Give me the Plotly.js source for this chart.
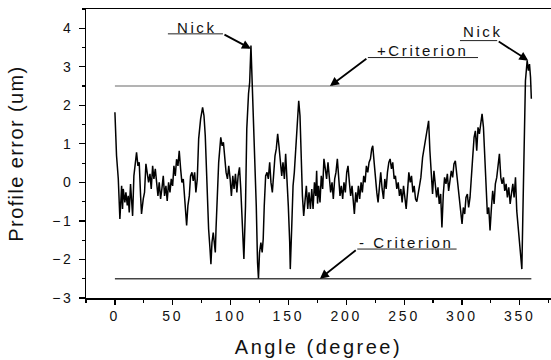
<!DOCTYPE html>
<html>
<head>
<meta charset="utf-8">
<script src="https://cdn.plot.ly/plotly-3.0.1.min.js"></script>
<style>
html,body{margin:0;padding:0;background:#fff;}
#chart{width:551px;height:360px;}
.xtick text,.ytick text{letter-spacing:2.8px;}
text.xtitle{letter-spacing:2.5px;}
text.ytitle{letter-spacing:1.4px;}
.annotation-text{letter-spacing:2.6px;}
</style>
</head>
<body>
<div id="chart"></div>
<script>
// Angle (degree)
const angle = [
0,1.4,2.9,3.7,4.3,5.8,6.6,7.2,8.6,9.5,10.7,11.5,12.4,13.5,14.7,15.3,16.4,17.6,18.7,19.9,
21.0,22.2,23.0,24.5,25.6,26.8,27.9,29.1,30.3,31.4,32.6,33.7,34.9,36.0,37.2,38.3,39.5,40.6,41.8,42.9,
44.1,45.2,46.4,47.6,48.7,49.9,51.0,52.2,53.3,54.5,55.6,56.8,57.9,59.1,60.2,61.4,62.0,63.1,64.3,65.4,
66.6,67.7,68.9,70.0,71.2,72.4,74.1,75.8,77.0,78.1,79.9,81.0,82.2,83.0,83.9,85.0,86.2,86.8,87.4,88.6,
89.7,91.5,92.7,93.8,95.0,96.1,97.3,98.4,99.6,100.7,101.9,103.0,104.2,105.4,106.5,107.7,108.8,110.0,111.5,112.9,
114.0,115.5,116.5,117.6,119.0,120.8,122.2,123.3,124.1,125.0,126.2,127.3,128.2,129.1,130.3,131.5,132.6,133.8,134.9,136.1,
137.2,138.4,139.5,140.7,141.8,143.0,144.2,145.3,146.5,147.6,148.8,149.9,151.1,151.6,152.8,154.0,155.1,156.3,157.7,158.9,
160.0,160.9,162.1,163.2,164.4,165.5,166.7,167.8,169.0,170.2,171.3,172.5,173.6,174.4,175.2,176.1,177.3,178.4,179.6,180.7,
181.9,183.0,184.2,185.3,186.5,187.7,188.8,190.0,191.1,192.3,193.4,194.6,195.7,196.9,198.0,199.2,200.4,201.5,202.7,203.8,
205.0,206.1,207.0,208.2,209.3,210.5,211.6,212.8,213.9,215.1,216.3,217.4,218.6,219.7,220.9,222.0,222.9,224.1,225.2,226.4,
227.5,228.7,229.8,231.0,232.2,233.3,234.5,235.6,236.8,237.9,239.1,240.2,241.4,242.5,243.7,244.9,246.0,247.2,248.3,249.5,
250.6,251.8,252.9,254.1,255.3,256.4,257.6,258.7,259.9,261.0,263.1,264.5,266.0,267.4,268.9,270.3,271.2,272.3,273.5,274.6,
275.8,277.0,278.1,279.3,280.4,281.6,282.7,283.9,285.0,286.2,287.4,288.5,289.7,290.8,292.0,293.1,294.3,295.4,296.6,297.7,
298.9,300.1,301.2,302.4,303.5,304.7,305.8,307.0,308.2,309.3,310.5,311.6,312.8,313.9,315.1,316.2,317.4,318.6,319.7,320.9,
322.0,323.2,324.3,325.5,326.6,327.8,328.9,330.1,331.3,332.4,333.6,334.7,335.9,337.0,338.2,339.3,340.5,341.7,342.8,344.0,
345.1,346.3,347.4,348.6,349.7,350.9,351.8,352.6,353.8,354.9,356.4,357.5,358.4,359.3,360.0
];
// Profile error (um)
const profileError = [
1.82,0.69,0.1,-0.35,-0.95,-0.09,-0.69,-0.17,-0.52,-0.26,-0.6,-0.35,-0.78,-0.04,-0.52,-0.87,0.17,0.52,0.78,0.43,
0.52,-0.35,-0.82,-0.43,-0.26,0.48,0.26,0.0,0.22,-0.17,0.43,0.09,0.35,-0.09,-0.35,0.0,-0.43,-0.17,0.17,-0.35,
-0.09,-0.48,0.0,-0.26,0.09,-0.09,0.43,0.17,0.6,0.43,0.82,0.35,0.0,0.09,-0.35,-0.87,-1.12,-0.6,-0.35,0.17,
0.26,0.04,0.26,-0.26,0.09,1.13,1.65,1.95,1.73,1.21,-0.35,-1.21,-1.73,-2.12,-1.56,-1.3,-1.65,-1.82,-1.21,-0.35,
0.52,1.17,0.95,1.04,0.6,0.26,0.09,0.43,0.09,-0.35,0.17,-0.17,0.22,-0.26,0.17,0.39,-0.17,-1.04,-1.99,-0.61,
1.39,2.3,2.6,3.55,2.25,0.95,-0.61,-2.08,-2.49,-1.82,-1.56,-1.82,-1.47,-0.61,0.17,0.26,0.09,0.52,0.0,-0.26,
0.26,0.69,0.87,1.26,0.95,0.52,0.17,0.52,0.09,0.74,0.09,-0.61,-1.56,-2.25,-1.21,-0.09,0.26,0.95,1.73,2.12,
1.73,0.52,-0.35,-0.87,-0.43,-0.09,-0.69,-0.26,-0.69,-0.17,-0.69,0.0,-0.35,0.3,-0.55,-0.09,-0.52,0.17,-0.17,0.61,
0.35,0.09,0.52,0.17,-0.26,0.0,-0.43,0.09,0.26,0.61,0.17,-0.35,-0.09,-0.43,0.0,-0.26,0.26,0.43,0.0,-0.35,
-0.09,-0.61,-0.82,-0.26,-0.52,-0.09,-0.43,0.0,-0.26,0.17,0.0,0.43,0.26,0.52,0.61,0.87,0.95,0.52,0.09,-0.26,
-0.52,0.0,0.26,-0.17,-0.43,0.09,-0.17,0.26,0.52,0.61,0.35,0.52,0.09,0.17,-0.17,0.0,-0.35,-0.17,-0.52,-0.09,
-0.35,-0.69,-0.26,0.26,0.0,0.17,-0.26,-0.09,-0.43,-0.5,-0.13,0.13,0.65,0.91,1.26,1.43,1.6,0.82,0.13,-0.3,
0.3,-0.04,-0.39,-0.13,-0.56,-0.3,-1.17,-0.3,0.13,-0.04,0.22,-0.22,0.04,0.3,0.13,0.48,0.56,0.22,-0.22,-0.56,
-0.74,-1.08,-0.65,-0.82,-0.39,-0.3,-0.65,-0.39,0.04,0.65,1.17,1.34,0.82,1.43,1.26,1.52,1.78,1.43,0.56,-0.22,
-0.82,-0.65,-1.25,-0.65,-0.22,-0.56,-0.04,0.13,0.48,0.74,0.13,-0.04,0.13,-0.22,-0.04,-0.39,-0.13,-0.56,-0.3,-0.04,
-0.39,0.13,-0.74,-1.17,-1.43,-1.95,-2.25,-0.95,1.21,2.64,3.16,2.9,3.07,2.73,2.17
];
// Criterion lines
const criterionX = [0, 360];
const plusCriterion = [2.5, 2.5];
const minusCriterion = [-2.5, -2.5];
const xTickVals = [0, 50, 100, 150, 200, 250, 300, 350];
const yTickVals = [-3, -2, -1, 0, 1, 2, 3, 4];

const font = 'Arial, "Liberation Sans", sans-serif';

const traces = [
  {x: criterionX, y: plusCriterion, type: 'scatter', mode: 'lines',
   line: {color: '#9a9a9a', width: 1.5}, hoverinfo: 'skip'},
  {x: criterionX, y: minusCriterion, type: 'scatter', mode: 'lines',
   line: {color: '#444444', width: 1.3}, hoverinfo: 'skip'},
  {x: angle, y: profileError, type: 'scatter', mode: 'lines',
   line: {color: '#000000', width: 1.5}}
];

function arrow(x, y, ax, ay) {
  return {x: x, y: y, ax: ax, ay: ay, xref: 'x', yref: 'y', axref: 'x', ayref: 'y',
    text: '', showarrow: true, arrowhead: 2, arrowsize: 1, arrowwidth: 1.8,
    arrowcolor: '#000', standoff: 0, startstandoff: 0};
}
function label(x, y, t) {
  return {x: x, y: y, xref: 'x', yref: 'y', text: t, showarrow: false,
    font: {family: font, size: 15, color: '#111'}, xanchor: 'center', yanchor: 'middle'};
}
function uline(x0, x1, y) {
  return {type: 'line', xref: 'x', yref: 'y', x0: x0, x1: x1, y0: y, y1: y,
    line: {color: '#222', width: 1}};
}

const layout = {
  width: 551, height: 360,
  margin: {l: 86, r: 0, t: 9, b: 62},
  paper_bgcolor: '#fff', plot_bgcolor: '#fff',
  showlegend: false,
  font: {family: font, size: 14, color: '#111'},
  xaxis: {
    range: [-25, 377], tickvals: xTickVals, ticks: 'outside', ticklen: 5, tickwidth: 1.2,
    tickcolor: '#000', showline: true, linecolor: '#000', linewidth: 1.5, mirror: true,
    showgrid: false, zeroline: false,
    minor: {dtick: 25, tick0: 0, ticks: 'outside', ticklen: 3, tickwidth: 1.2, tickcolor: '#000', showgrid: false},
    tickfont: {family: font, size: 14, color: '#111'},
    title: {text: 'Angle (degree)', font: {family: font, size: 20, color: '#111'}, standoff: 16}
  },
  yaxis: {
    range: [-3, 4.5], tickvals: yTickVals, ticks: 'outside', ticklen: 6, tickwidth: 1.2,
    tickcolor: '#000', showline: true, linecolor: '#000', linewidth: 1.5, mirror: false,
    showgrid: false, zeroline: false, ticklabelstandoff: 2,
    minor: {dtick: 0.5, tick0: 0, ticks: 'outside', ticklen: 3, tickwidth: 1.2, tickcolor: '#000', showgrid: false},
    tickfont: {family: font, size: 14, color: '#111'},
    title: {text: 'Profile error (um)', font: {family: font, size: 20, color: '#111'}, standoff: 23}
  },
  shapes: [
    uline(45.8, 93.4, 3.855),
    uline(298.3, 330.5, 3.68),
    uline(218.7, 313.9, 3.24),
    uline(209.5, 295.4, -1.73)
  ],
  annotations: [
    label(70.6, 4.03, 'Nick'),
    label(318.5, 3.91, 'Nick'),
    label(266, 3.43, '+Criterion'),
    label(252, -1.56, '- Criterion'),
    arrow(117.6, 3.47, 93.4, 3.855),
    arrow(357.4, 3.16, 330.5, 3.68),
    arrow(185.9, 2.5, 218.7, 3.24),
    arrow(177.2, -2.5, 209.5, -1.73)
  ]
};

Plotly.newPlot('chart', traces, layout, {displayModeBar: false, staticPlot: true});
</script>
</body>
</html>
